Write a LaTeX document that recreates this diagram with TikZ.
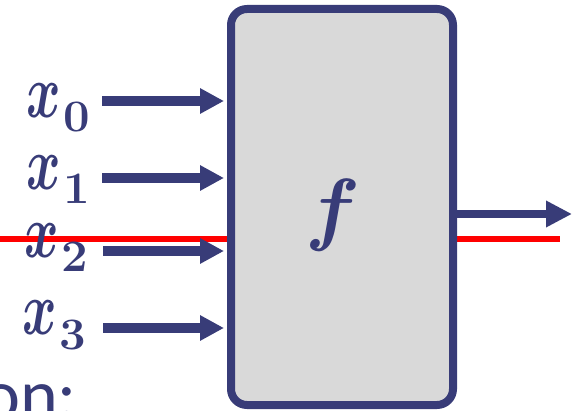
\RequirePackage{fix-cm}
\documentclass[tikz,border=0pt]{standalone}
\usepackage{fontspec}
\usepackage{graphicx}
\newfontfamily\bodysans{Carlito}
\usetikzlibrary{arrows.meta}
\definecolor{navy}{HTML}{383C78}
\definecolor{boxgray}{HTML}{D9D9D9}
% math-italic letters set directly from the OML font (scalable through fix-cm)
\newcommand{\mbitalic}{\fontencoding{OML}\fontfamily{cmm}\fontseries{b}\fontshape{it}\selectfont}
\newcommand{\invar}[1]{\scalebox{0.69}[1]{\fontsize{76}{76}\mbitalic x}\kern3pt\raisebox{-14pt}{\scalebox{1.05}[1]{\fontsize{45}{45}\selectfont\bfseries #1}}}
\tikzset{
  blockbox/.style={draw=navy, fill=boxgray, line width=8pt, rounded corners=16pt,
    minimum width=222pt, minimum height=396pt, inner sep=0pt},
  inarrow/.style={draw=navy, line width=10pt, -{Triangle[length=24pt,width=24pt]}},
  outarrow/.style={draw=navy, line width=8.5pt, -{Triangle[length=26pt,width=25pt]}},
  varlabel/.style={text=navy, inner sep=0pt, anchor=base west},
  redline/.style={draw=red, line width=6.5pt},
}
\begin{document}
\begin{tikzpicture}[x=1pt,y=-1pt]
  \useasboundingbox (0,0) rectangle (578,411);

  % caption text running off the bottom edge
  \node[text=navy, inner sep=0pt, anchor=base west, font=\bodysans\fontsize{72}{72}\selectfont] (on) at (-18,419) {on:};

  % red marker line passing behind the block
  \coordinate (r0) at (0,239);
  \coordinate (r1) at (560,239);
  \draw[redline] (r0) -- (r1);

  % the function block
  \node[blockbox] (box) at (342,207) {};
  \node[text=navy, inner sep=0pt, anchor=base, font=\fontsize{81}{81}\mbitalic] (fn) at (329,236) {f};

  % input labels
  \node[varlabel] (l0) at (26,118) {\invar{0}};
  \node[varlabel] (l1) at (26,190) {\invar{1}};
  \node[varlabel] (l2) at (24,258) {\invar{2}};
  \node[varlabel] (l3) at (22,335) {\invar{3}};

  % input arrows
  \coordinate (a0) at (102,101);
  \coordinate (a1) at (102,178);
  \coordinate (a2) at (103,251);
  \coordinate (a3) at (103,328);
  \foreach \a in {a0,a1,a2,a3}
    \draw[inarrow] (\a) -- ([xshift=-3pt]\a -| box.west);

  % output arrow
  \coordinate (o1) at (572,214);
  \draw[outarrow] (o1 -| box.east) -- (o1);
\end{tikzpicture}
\end{document}
